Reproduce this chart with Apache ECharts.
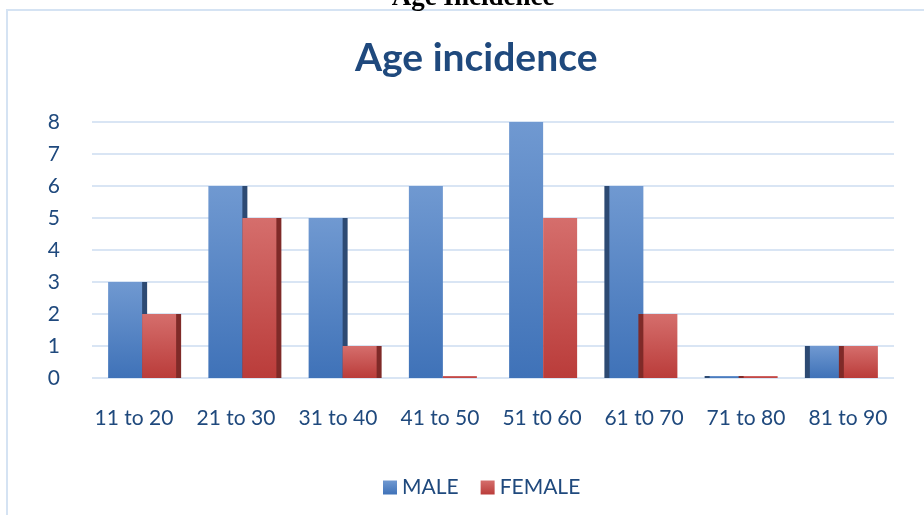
<!DOCTYPE html>
<html>
<head>
<meta charset="utf-8">
<script src="https://cdn.jsdelivr.net/npm/echarts@6/dist/echarts.min.js"></script>
<style>
  html, body { margin: 0; padding: 0; background: #ffffff; }
  #chart { width: 924px; height: 515px; }
</style>
</head>
<body>
<div id="chart"></div>
<script>
// Age groups and counts per sex
const categories = ['11 to 20', '21 to 30', '31 to 40', '41 to 50', '51 t0 60', '61 t0 70', '71 to 80', '81 to 90'];
const maleCounts = [3, 6, 5, 6, 8, 6, 0, 1];
const femaleCounts = [2, 5, 1, 0, 5, 2, 0, 1];
const yTicks = [0, 1, 2, 3, 4, 5, 6, 7, 8];

const textBlue = '#1f497d';
const font = 'Lato, "Open Sans", sans-serif';

// side face of each bar: visible on the right for left groups, on the left for right groups
function sideOffset(i) {
  if (i <= 2) return 5;
  if (i >= 5) return -5;
  return 0;
}

function withSides(values, sideColor) {
  return values.map((v, i) => ({
    value: v,
    itemStyle: {
      shadowColor: sideColor,
      shadowBlur: 0,
      shadowOffsetX: sideOffset(i),
      shadowOffsetY: 0
    }
  }));
}

const chart = echarts.init(document.getElementById('chart'), null, { renderer: 'canvas' });

chart.setOption({
  backgroundColor: '#ffffff',
  animation: false,
  graphic: [
    {
      type: 'rect',
      shape: { x: 7, y: 10, width: 940, height: 530 },
      style: { fill: 'none', stroke: '#d5e3f3', lineWidth: 2 },
      z: 0
    },
    {
      type: 'text',
      x: 473,
      y: -15,
      style: {
        text: 'Age Incidence',
        align: 'center',
        font: 'bold 27px "Liberation Serif", "Times New Roman", serif',
        fill: '#000000'
      }
    }
  ],
  title: {
    text: 'Age incidence',
    left: 350,
    top: 34,
    textStyle: {
      color: textBlue,
      fontFamily: font,
      fontWeight: 'bold',
      fontSize: 39
    }
  },
  legend: {
    bottom: 12,
    left: 378,
    itemWidth: 14,
    itemHeight: 14,
    itemGap: 22,
    icon: 'rect',
    textStyle: { color: textBlue, fontFamily: font, fontSize: 21 },
    data: ['MALE', 'FEMALE']
  },
  grid: [
    // plotting area for the bars
    { left: 92, right: 30, top: 122, bottom: 137 },
    // slightly wider band carrying the category labels
    { left: 83, right: 25, top: 122, bottom: 137 }
  ],
  xAxis: [
    {
      type: 'category',
      gridIndex: 0,
      data: categories,
      axisLine: { show: false },
      axisTick: { show: false },
      axisLabel: { show: false }
    },
    {
      type: 'category',
      gridIndex: 1,
      data: categories,
      axisLine: { show: false },
      axisTick: { show: false },
      axisLabel: { interval: 0, color: textBlue, fontFamily: font, fontSize: 21, margin: 30 }
    }
  ],
  yAxis: [
    {
      type: 'value',
      gridIndex: 0,
      min: yTicks[0],
      max: yTicks[yTicks.length - 1],
      interval: 1,
      axisLine: { show: false },
      axisTick: { show: false },
      axisLabel: { color: textBlue, fontFamily: font, fontSize: 21, margin: 32 },
      splitLine: { lineStyle: { color: '#d9e5f4', width: 2 } }
    },
    {
      type: 'value',
      gridIndex: 1,
      min: yTicks[0],
      max: yTicks[yTicks.length - 1],
      interval: 1,
      show: false,
      splitLine: { show: false }
    }
  ],
  series: [
    {
      name: 'MALE',
      type: 'bar',
      xAxisIndex: 0,
      yAxisIndex: 0,
      barWidth: 34,
      barGap: '0%',
      barMinHeight: 2,
      data: withSides(maleCounts, '#2d4a73'),
      itemStyle: {
        color: new echarts.graphic.LinearGradient(0, 0, 0, 1, [
          { offset: 0, color: '#7099d1' },
          { offset: 1, color: '#3f72b8' }
        ])
      }
    },
    {
      name: 'FEMALE',
      type: 'bar',
      xAxisIndex: 0,
      yAxisIndex: 0,
      barWidth: 34,
      barMinHeight: 2,
      data: withSides(femaleCounts, '#7f2a28'),
      itemStyle: {
        color: new echarts.graphic.LinearGradient(0, 0, 0, 1, [
          { offset: 0, color: '#d56e6c' },
          { offset: 1, color: '#ba3c3a' }
        ])
      }
    }
  ]
});
</script>
</body>
</html>
